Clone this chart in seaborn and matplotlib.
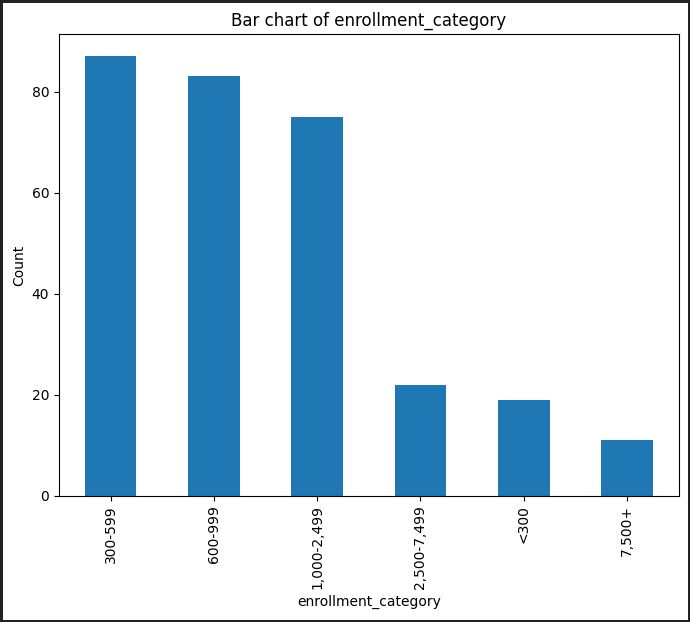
import matplotlib as mpl
mpl.use("Agg")
import matplotlib.pyplot as plt
import pandas as pd
import seaborn as sns

categories = ["300-599", "600-999", "1,000-2,499", "2,500-7,499", "<300", "7,500+"]
counts = [87, 83, 75, 22, 19, 11]

df = pd.DataFrame({"enrollment_category": categories, "Count": counts})

fig, ax = plt.subplots(figsize=(6.9, 6.22), dpi=100)
fig.patch.set_edgecolor("#222222")
fig.patch.set_linewidth(2.5)
fig.subplots_adjust(left=0.0855, right=0.9835, top=0.945, bottom=0.203)

sns.barplot(data=df, x="enrollment_category", y="Count", color="#1f77b4",
            saturation=1, width=0.5, ax=ax)
ax.set_xlim(-0.5, len(categories) - 0.5)
ax.set_ylim(0, max(counts) * 1.05)
ax.tick_params(axis="x", labelrotation=90)
ax.set_title("Bar chart of enrollment_category")
ax.set_xlabel("enrollment_category")
ax.set_ylabel("Count")

fig.savefig("out.png", dpi=100, edgecolor=fig.get_edgecolor())
